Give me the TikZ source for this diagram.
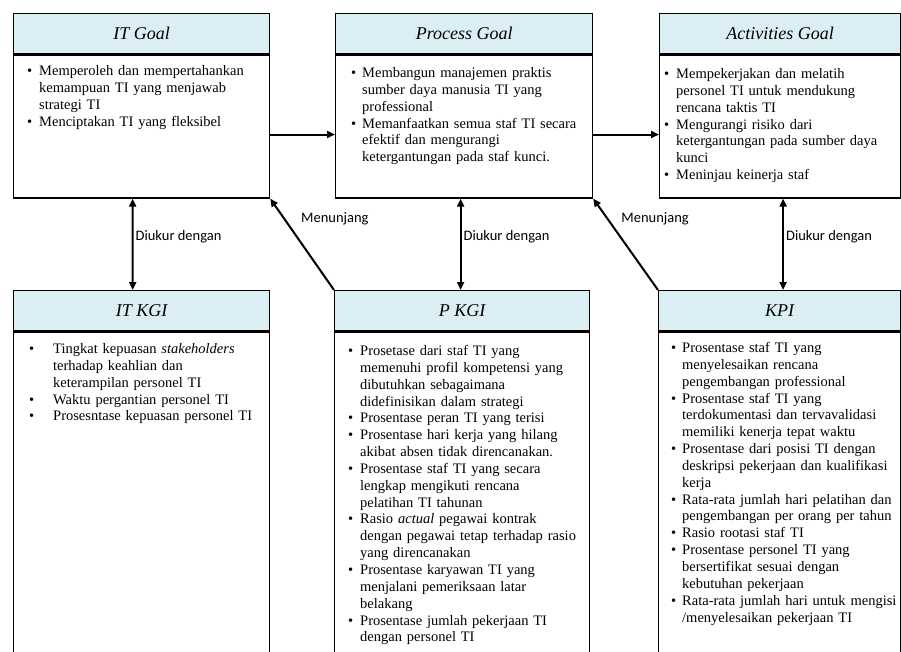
\documentclass[tikz,border=0pt]{standalone}
\usepackage{fontspec}
\setmainfont{Liberation Serif}
\newfontfamily\labelfont{Carlito}
\usetikzlibrary{arrows.meta}
\definecolor{headblue}{HTML}{DBEEF4}
% bullet with hanging indent
\newcommand{\bitem}[2][12pt]{\par\hangindent=#1\hangafter=1\noindent\makebox[#1][l]{\textbullet}#2\par}
\newcommand{\nl}{\hfil\break}

\begin{document}
\begin{tikzpicture}[x=1pt, y=-1pt,
    head/.style={draw, line width=1.4pt, fill=headblue, minimum height=40pt, anchor=north west, inner sep=0pt, font=\fontsize{18}{21}\selectfont\itshape},
    body/.style={draw, line width=1.2pt, anchor=north west, inner sep=0pt},
    items/.style={anchor=north west, inner sep=0pt, align=left, text width=250pt, font=\fontsize{14.5}{16.85}\selectfont},
    arr/.style={-{Triangle[length=8pt,width=7pt]}, line width=2pt},
    dbl/.style={{Triangle[length=8pt,width=7pt]}-{Triangle[length=8pt,width=7pt]}, line width=2pt},
    lbl/.style={font=\labelfont\fontsize{14.5}{17}\selectfont, inner sep=2pt}]
    \useasboundingbox (0,0) rectangle (901,651);
    \clip (0,0) rectangle (901,651);

    % Goals
    \node[head, minimum width=256pt] (itgoalh) at (13,13) {IT Goal};
    \node[body, minimum width=256pt, minimum height=143pt] (itgoal) at (itgoalh.south west) {};
    \node[head, minimum width=257pt] (procgoalh) at (335,13) {Process Goal};
    \node[body, minimum width=257pt, minimum height=143pt] (procgoal) at (procgoalh.south west) {};
    \node[head, minimum width=241pt] (actgoalh) at (659,13) {Activities Goal};
    \node[body, minimum width=241pt, minimum height=143pt] (actgoal) at (actgoalh.south west) {};

    \node[items] (itgoaltxt) at ([shift={(14,4)}]itgoal.north west) {%
        \bitem{Memperoleh dan mempertahankan\nl kemampuan TI yang  menjawab\nl strategi TI}
        \bitem{Menciptakan TI yang fleksibel}};
    \node[items] (procgoaltxt) at ([shift={(16,6)}]procgoal.north west) {%
        \bitem[11pt]{Membangun manajemen  praktis\nl sumber daya manusia  TI yang\nl professional}
        \bitem[11pt]{Memanfaatkan semua staf TI secara\nl efektif dan mengurangi\nl ketergantungan pada staf kunci.}};
    \node[items] (actgoaltxt) at ([shift={(5,7)}]actgoal.north west) {%
        \bitem{Mempekerjakan dan melatih\nl personel TI untuk mendukung\nl rencana taktis TI}
        \bitem{Mengurangi risiko dari\nl ketergantungan pada sumber daya\nl kunci}
        \bitem{Meninjau keinerja staf}};

    % Indicators
    \node[head, minimum width=256pt] (itkgih) at (13,290) {IT KGI};
    \node[body, minimum width=256pt, minimum height=340pt] (itkgi) at (itkgih.south west) {};
    \node[head, minimum width=255pt] (pkgih) at (334,290) {P KGI};
    \node[body, minimum width=255pt, minimum height=340pt] (pkgi) at (pkgih.south west) {};
    \node[head, minimum width=242pt] (kpih) at (658,290) {KPI};
    \node[body, minimum width=242pt, minimum height=340pt] (kpi) at (kpih.south west) {};

    \node[items] (itkgitxt) at ([shift={(16,5)}]itkgi.north west) {%
        \bitem[24pt]{Tingkat kepuasan \textit{stakeholders}\nl terhadap keahlian dan\nl keterampilan personel TI}
        \bitem[24pt]{Waktu pergantian personel TI}
        \bitem[24pt]{Prosesntase kepuasan personel TI}};
    \node[items] (pkgitxt) at ([shift={(14,7)}]pkgi.north west) {%
        \bitem{Prosetase  dari staf TI yang\nl memenuhi profil kompetensi yang\nl dibutuhkan sebagaimana\nl didefinisikan dalam strategi}
        \bitem{Prosentase peran TI yang terisi}
        \bitem{Prosentase  hari kerja yang hilang\nl akibat absen tidak  direncanakan.}
        \bitem{Prosentase  staf TI yang secara\nl lengkap mengikuti rencana\nl pelatihan TI tahunan}
        \bitem{Rasio \textit{actual} pegawai kontrak\nl dengan pegawai tetap terhadap rasio\nl yang direncanakan}
        \bitem{Prosentase  karyawan TI yang\nl menjalani pemeriksaan latar\nl belakang}
        \bitem{Prosentase  jumlah pekerjaan TI\nl dengan personel TI}};
    \node[items] (kpitxt) at ([shift={(13,4)}]kpi.north west) {%
        \bitem[11pt]{Prosentase staf TI yang\nl menyelesaikan rencana\nl pengembangan professional}
        \bitem[11pt]{Prosentase staf TI yang\nl terdokumentasi dan tervavalidasi\nl memiliki kenerja tepat waktu}
        \bitem[11pt]{Prosentase dari posisi TI dengan\nl deskripsi pekerjaan dan kualifikasi\nl kerja}
        \bitem[11pt]{Rata-rata jumlah hari pelatihan dan\nl pengembangan per orang per tahun}
        \bitem[11pt]{Rasio rootasi staf TI}
        \bitem[11pt]{Prosentase personel TI yang\nl bersertifikat sesuai dengan\nl kebutuhan pekerjaan}
        \bitem[11pt]{Rata-rata jumlah hari untuk mengisi\nl /menyelesaikan pekerjaan TI}};

    % Goal flow
    \draw[arr] ([yshift=-8]itgoal.east) -- ([yshift=-8]procgoal.west);
    \draw[arr] ([yshift=-8]procgoal.east) -- ([yshift=-8]actgoal.west);

    % Measured by
    \draw[dbl] ([xshift=-9]itgoal.south) -- ([xshift=-9]itkgih.north)
        node[lbl, pos=0.42, right] (ukur1) {Diukur dengan};
    \draw[dbl] ([xshift=-3.5]procgoal.south) -- ([xshift=-3.5]procgoal.south |- pkgih.north)
        node[lbl, pos=0.42, right] (ukur2) {Diukur dengan};
    \draw[dbl] ([xshift=3]actgoal.south) -- ([xshift=3]actgoal.south |- kpih.north)
        node[lbl, pos=0.42, right] (ukur3) {Diukur dengan};

    % Support
    \draw[arr] (pkgih.north west) -- (itgoal.south east)
        node[lbl, pos=0.78, right=14pt] (tunjang1) {Menunjang};
    \draw[arr] (kpih.north west) -- (procgoal.south east)
        node[lbl, pos=0.78, right=11pt] (tunjang2) {Menunjang};
\end{tikzpicture}
\end{document}
